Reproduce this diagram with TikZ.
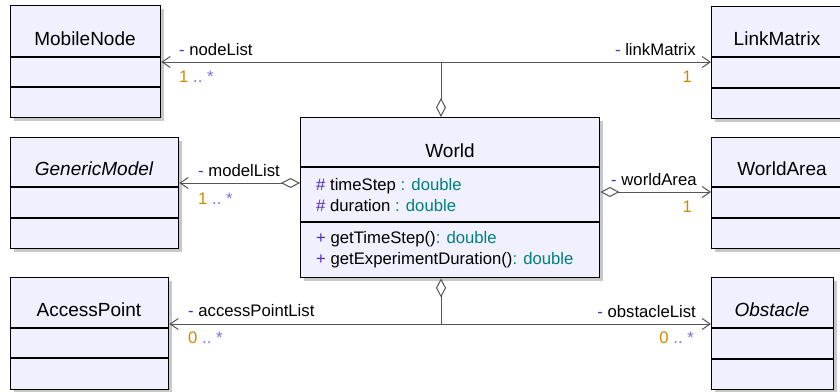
\documentclass[tikz,border=0pt]{standalone}
\usepackage{fontspec}
\setmainfont{Liberation Sans}
\usetikzlibrary{arrows.meta,shadows}
\definecolor{boxfill}{RGB}{240,240,255}
\definecolor{visc}{RGB}{80,40,200}
\definecolor{typec}{RGB}{0,128,128}
\definecolor{multc}{RGB}{205,140,0}
\definecolor{starc}{RGB}{130,110,230}
\definecolor{linec}{RGB}{85,85,85}
\definecolor{shadowc}{RGB}{200,200,200}
\tikzset{
  classbox/.style={rectangle, draw=black, line width=1.4pt, fill=boxfill, anchor=north west, inner sep=0pt,
    drop shadow={shadow xshift=3pt, shadow yshift=-3pt, fill=shadowc, opacity=1}},
  divline/.style={draw=black, line width=1.3pt},
  titletext/.style={font=\fontsize{19}{22}\selectfont, anchor=base, inner sep=0pt},
  bodytext/.style={font=\fontsize{16.7}{20}\selectfont, anchor=base west, inner sep=0pt},
  lbl/.style={font=\fontsize{16.7}{20}\selectfont, inner sep=0pt},
  assoc/.style={draw=linec, line width=1pt, -{Straight Barb[length=8pt,width=11pt,line width=1pt]}},
  aggr/.style={draw=linec, line width=1pt, {Diamond[fill=white,length=19pt,width=10pt,line width=1pt]}-{Straight Barb[length=8pt,width=11pt,line width=1pt]}},
}
\newcommand{\vis}[1]{\textcolor{visc}{#1}}
\newcommand{\mult}[1]{\textcolor{multc}{#1}\textcolor{starc}{\ ..\ *}}
\begin{document}
\begin{tikzpicture}[x=1pt,y=-1pt]
\useasboundingbox[fill=white] (0,0) rectangle (840,391);

% class boxes
\node[classbox, minimum width=150pt, minimum height=112pt] (mob) at (10,5) {};
\node[classbox, minimum width=132pt, minimum height=112pt] (link) at (711,6) {};
\node[classbox, minimum width=168pt, minimum height=111pt] (gen) at (10,137) {};
\node[classbox, minimum width=132pt, minimum height=111pt] (area) at (711,137) {};
\node[classbox, minimum width=158pt, minimum height=112pt] (ap) at (10,277) {};
\node[classbox, minimum width=122pt, minimum height=112pt] (obs) at (711,277) {};
\node[classbox, minimum width=299pt, minimum height=160pt] (world) at (300,117) {};

% dividers
\draw[divline] (10,57) -- (160,57);   \draw[divline] (10,87) -- (160,87);
\draw[divline] (711,57) -- (843,57);  \draw[divline] (711,88) -- (843,88);
\draw[divline] (10,187) -- (178,187); \draw[divline] (10,218) -- (178,218);
\draw[divline] (711,187) -- (843,187);\draw[divline] (711,218) -- (843,218);
\draw[divline] (10,328) -- (168,328); \draw[divline] (10,358) -- (168,358);
\draw[divline] (711,328) -- (833,328);\draw[divline] (711,359) -- (833,359);
\draw[divline] (300,167) -- (599,167);\draw[divline] (300,222) -- (599,222);

% class names
\node[titletext] (mobn) at (85,45) {MobileNode};
\node[titletext] (linkn) at (777,45) {LinkMatrix};
\node[titletext] (genn) at (94,175.7) {\itshape GenericModel};
\node[titletext] (arean) at (782,175.7) {WorldArea};
\node[titletext] (apn) at (89,316) {AccessPoint};
\node[titletext] (obsn) at (772,316) {\itshape Obstacle};
\node[titletext] (worldn) at (450,157) {World};

% World members
\node[bodytext] (a1) at (316,190) {\vis{\#} timeStep \textcolor{typec}{: double}};
\node[bodytext] (a2) at (316,211.7) {\vis{\#} duration \textcolor{typec}{: double}};
\node[bodytext] (m1) at (316,243.3) {\vis{+} getTimeStep()\textcolor{typec}{: double}};
\node[bodytext] (m2) at (316,264.3) {\vis{+} getExperimentDuration()\textcolor{typec}{: double}};

% connectors
\coordinate (jtop) at (441,62);
\coordinate (jbot) at (441,324);
\draw[assoc] (jtop) -- (mob.east |- jtop);
\draw[assoc] (jtop) -- (link.west |- jtop);
\draw[draw=linec, line width=1pt, {Diamond[fill=white,length=19pt,width=10pt,line width=1pt]}-] (world.north -| jtop) -- (jtop);
\draw[assoc] (jbot) -- (ap.east |- jbot);
\draw[assoc] (jbot) -- (obs.west |- jbot);
\draw[draw=linec, line width=1pt, {Diamond[fill=white,length=19pt,width=10pt,line width=1pt]}-] (world.south -| jbot) -- (jbot);
\draw[aggr] (world.west |- 0,183) -- (gen.east |- 0,183);
\draw[aggr] (world.east |- 0,192) -- (area.west |- 0,192);

% association labels
\node[lbl, anchor=base west] (l1) at (179,55) {\vis{-} nodeList};
\node[lbl, anchor=base west] (l1m) at (179,82) {\mult{1}};
\node[lbl, anchor=base east] (l2) at (696,55) {\vis{-} linkMatrix};
\node[lbl, anchor=base east] (l2m) at (692,82) {\textcolor{multc}{1}};
\node[lbl, anchor=base west] (l3) at (198,176.7) {\vis{-} modelList};
\node[lbl, anchor=base west] (l3m) at (198,204) {\mult{1}};
\node[lbl, anchor=base west] (l4) at (611,185.7) {\vis{-} worldArea};
\node[lbl, anchor=base east] (l4m) at (692,212) {\textcolor{multc}{1}};
\node[lbl, anchor=base west] (l5) at (188,316.7) {\vis{-} accessPointList};
\node[lbl, anchor=base west] (l5m) at (188,343) {\mult{0}};
\node[lbl, anchor=base east] (l6) at (696,317) {\vis{-} obstacleList};
\node[lbl, anchor=base east] (l6m) at (694,343) {\mult{0}};
\end{tikzpicture}
\end{document}
